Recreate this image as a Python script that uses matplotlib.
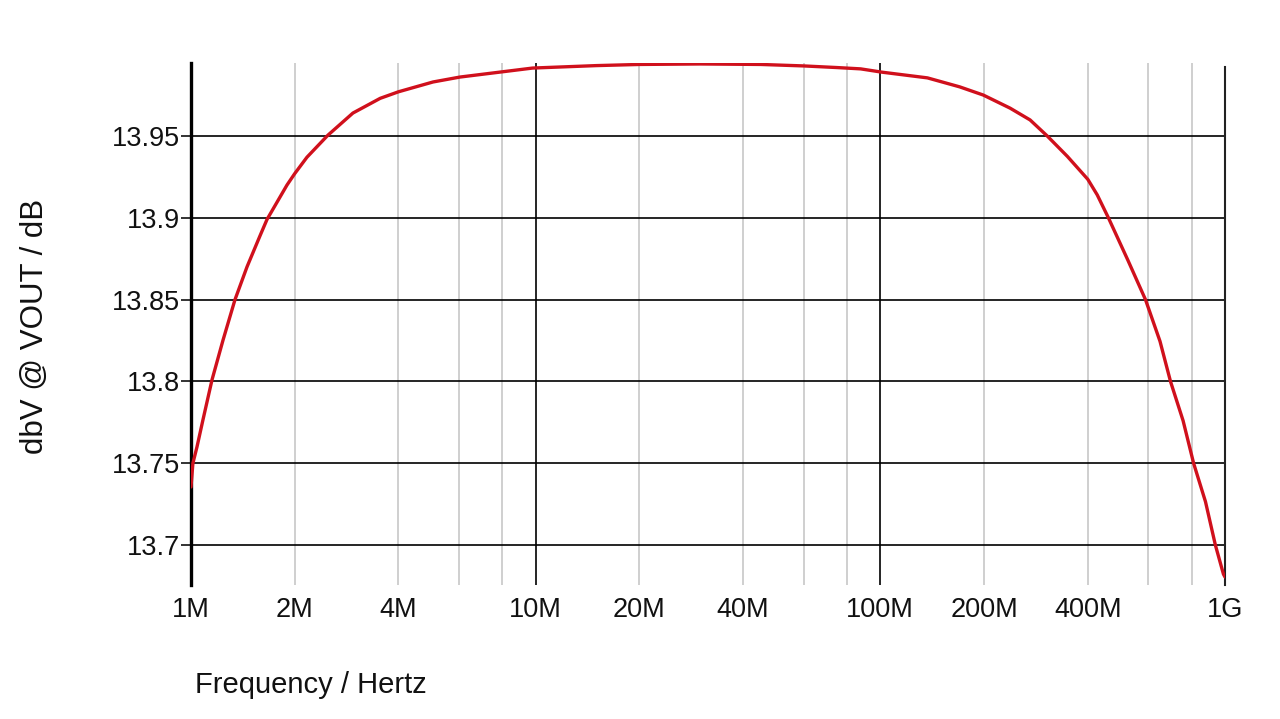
import matplotlib
matplotlib.use("Agg")
import matplotlib.pyplot as plt

# ---- data ----
freq_hz = [1.0e6, 1.013e6, 1.041e6, 1.083e6, 1.151e6, 1.239e6, 1.342e6, 1.454e6,
           1.586e6, 1.662e6, 1.899e6, 2.0e6, 2.17e6, 2.497e6, 2.95e6, 3.54e6,
           4.0e6, 5.04e6, 6.03e6, 7.86e6, 9.8e6, 15e6, 20e6, 30e6, 45e6, 60e6,
           75e6, 87.7e6, 101e6, 137e6, 170e6, 199e6, 238e6, 272e6, 305e6, 349e6,
           400e6, 426e6, 459e6, 523e6, 588e6, 648e6, 695e6, 756e6, 811e6, 878e6,
           938e6, 990e6, 1.0e9]
dbv = [13.7355, 13.750, 13.760, 13.7764, 13.801, 13.8253, 13.850, 13.870,
       13.889, 13.899, 13.920, 13.927, 13.937, 13.9505, 13.964, 13.973,
       13.977, 13.983, 13.986, 13.989, 13.9915, 13.993, 13.9937, 13.994, 13.9937, 13.9928,
       13.9918, 13.991, 13.989, 13.9855, 13.980, 13.975, 13.967, 13.9598, 13.950, 13.9375,
       13.9235, 13.914, 13.900, 13.874, 13.850, 13.8245, 13.800, 13.776, 13.750, 13.7265,
       13.700, 13.6822, 13.6805]

x_tick_pos = [1e6, 2e6, 4e6, 10e6, 20e6, 40e6, 100e6, 200e6, 400e6, 1e9]
x_tick_lab = ["1M", "2M", "4M", "10M", "20M", "40M", "100M", "200M", "400M", "1G"]
y_tick_pos = [13.7, 13.75, 13.8, 13.85, 13.9, 13.95]
y_tick_lab = ["13.7", "13.75", "13.8", "13.85", "13.9", "13.95"]
grey_vlines = [2e6, 4e6, 6e6, 8e6, 20e6, 40e6, 60e6, 80e6,
               200e6, 400e6, 600e6, 800e6]
black_vlines = [10e6, 100e6]

plt.rcParams['font.family'] = ['Liberation Sans', 'DejaVu Sans']

fig = plt.figure(figsize=(12.8, 7.19), dpi=100)
ax = fig.add_axes([0.1492, 0.1864, 0.957 - 0.1492, 0.9124 - 0.1864])
ax.set_xscale('log')
ax.set_xlim(1e6, 1e9)
ax.set_ylim(13.6756, 13.9946)

for v in grey_vlines:
    ax.axvline(v, color='#cccccc', lw=1.3, zorder=1)
for v in black_vlines:
    ax.axvline(v, color='black', lw=1.2, zorder=1.5)
for yv in y_tick_pos:
    ax.axhline(yv, color='black', lw=1.2, zorder=2)

ax.plot(freq_hz, dbv, color='#d0101c', lw=2.4, zorder=3,
        solid_capstyle='round', solid_joinstyle='round')

for s in ['top', 'bottom']:
    ax.spines[s].set_visible(False)
ax.spines['left'].set_linewidth(2.4)
ax.spines['left'].set_color('black')
ax.spines['right'].set_linewidth(1.5)
ax.spines['right'].set_color('#222222')
ax.spines['right'].set_bounds(13.6756, 13.992)

ax.set_xticks(x_tick_pos)
ax.set_xticklabels(x_tick_lab)
ax.xaxis.set_minor_locator(matplotlib.ticker.NullLocator())
ax.tick_params(axis='x', length=0, pad=9, labelsize=19.5, colors='#111111')
ax.set_yticks(y_tick_pos)
ax.set_yticklabels(y_tick_lab)
ax.tick_params(axis='y', length=7, width=1.2, pad=1, labelsize=19.5, colors='#111111')

fig.text(0.152, 0.047, "Frequency / Hertz", fontsize=21, ha='left', va='center', color='#111111')
fig.text(0.027, 0.546, "dbV @ VOUT / dB", fontsize=22.5, rotation=90, ha='center', va='center', color='#111111')

fig.savefig("out.png", dpi=100)
